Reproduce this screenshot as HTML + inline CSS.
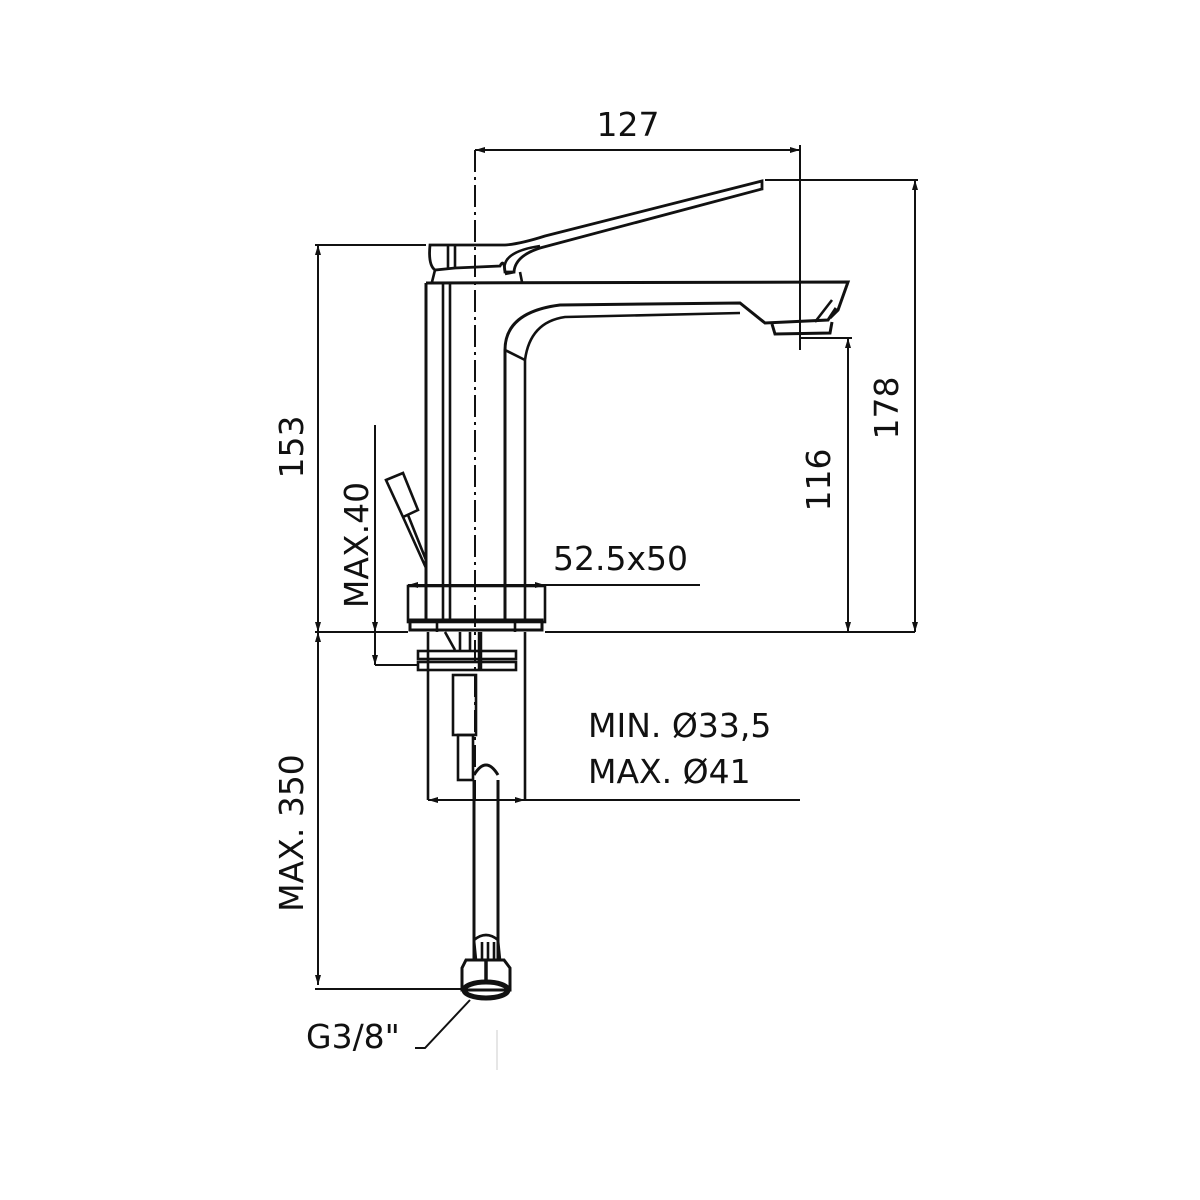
<!DOCTYPE html>
<html><head><meta charset="utf-8"><style>
html,body{margin:0;padding:0;background:#fff;}
svg{display:block}
text{font-family:"DejaVu Sans","Liberation Sans",sans-serif;fill:#111;font-size:33px}
</style></head><body>
<svg width="1200" height="1200" viewBox="0 0 1200 1200" xmlns="http://www.w3.org/2000/svg">
<g stroke="#111" stroke-width="2.6" fill="none">
<line x1="475" y1="150" x2="475" y2="800" stroke-dasharray="22,5,3,5" stroke-width="2"/>
<line x1="475" y1="150" x2="800" y2="150" stroke-width="2"/>
<line x1="800" y1="145" x2="800" y2="350" stroke-width="2"/>
<path d="M430 245 L505 245 Q520 244 545 236 L762 181 L762 189 L540 248 Q515 256 514 272 L505 272 Q504 258 500 266 L455 268 L435 270 Q428 265 430 245 Z" stroke-width="2.8"/>
<path d="M515 272 L505 274 M505 272 Q500 252 540 246"/>
<line x1="448" y1="246" x2="448" y2="268"/><line x1="455" y1="246" x2="455" y2="268"/>
<path d="M435 270 L432 282 M520 272 L522 282"/>
<path d="M426 283 L848 282 L838 310 L830 318" stroke-width="3"/>
<line x1="426" y1="283" x2="426" y2="620" stroke-width="3"/>
<line x1="443" y1="283" x2="443" y2="620"/>
<line x1="450" y1="283" x2="450" y2="620"/>
<path d="M505 620 L505 350 Q505 312 560 305 L740 303 L765 323 L828 320 L836 308" stroke-width="3"/>
<path d="M525 620 L525 360 Q530 322 565 317 L740 313"/>
<path d="M505 350 L525 360"/>
<path d="M772 324 L775 334 L830 333 L832 322" stroke-width="3"/>
<path d="M815 322 L832 300"/>
<rect x="408" y="586" width="137" height="36"/>
<rect x="410" y="620" width="132" height="10" stroke-width="3"/>
<line x1="437" y1="620" x2="437" y2="632"/><line x1="515" y1="620" x2="515" y2="632"/>
<line x1="315" y1="632" x2="408" y2="632" stroke-width="2"/>
<line x1="545" y1="632" x2="915" y2="632" stroke-width="2"/>
<rect x="418" y="651" width="98" height="8"/>
<rect x="418" y="662" width="98" height="8"/>
<line x1="428" y1="632" x2="428" y2="800"/><line x1="525" y1="632" x2="525" y2="800"/>
<line x1="460" y1="632" x2="460" y2="650"/><line x1="470" y1="632" x2="470" y2="650"/>
<line x1="480" y1="632" x2="480" y2="670" stroke-width="4.5"/>
<path d="M445 632 L455 650"/>
<rect x="453" y="675" width="23" height="60"/>
<rect x="458" y="735" width="15" height="45"/>
<path d="M474 780 L474 960 M498 780 L498 960 M474 775 Q486 755 498 775" stroke-width="3"/>
<path d="M476 960 L474 940 Q486 930 498 940 L500 960 Z"/>
<line x1="482" y1="942" x2="482" y2="960"/><line x1="488" y1="942" x2="488" y2="960"/><line x1="494" y1="942" x2="494" y2="960"/>
<path d="M466 960 L504 960 L510 968 L510 990 L462 990 L462 968 Z" stroke-width="3"/>
<ellipse cx="486" cy="990" rx="22" ry="8" stroke-width="5"/>
<line x1="486" y1="960" x2="486" y2="982" stroke-width="3.5"/>
<line x1="318" y1="245" x2="318" y2="985" stroke-width="2"/>
<line x1="315" y1="245" x2="426" y2="245" stroke-width="2"/>
<line x1="315" y1="989" x2="465" y2="989" stroke-width="2"/>
<line x1="375" y1="425" x2="375" y2="665" stroke-width="2"/>
<line x1="375" y1="665" x2="418" y2="665" stroke-width="2"/>
<path d="M386 480 L403 473 L418 510 L403 517 Z M403 517 L426 568 M408 515 L426 560"/>
<line x1="408" y1="585" x2="700" y2="585" stroke-width="2"/>
<line x1="848" y1="338" x2="848" y2="632" stroke-width="2"/>
<line x1="800" y1="338" x2="852" y2="338" stroke-width="2"/>
<line x1="915" y1="180" x2="915" y2="632" stroke-width="2"/>
<line x1="765" y1="180" x2="918" y2="180" stroke-width="2"/>
<line x1="428" y1="800" x2="800" y2="800" stroke-width="2"/>
<path d="M415 1048 L425 1048 L470 1000" stroke-width="2"/>
<line x1="497" y1="1030" x2="497" y2="1070" stroke="#ccc" stroke-width="1"/>
</g>
<g fill="#111">
<path d="M475 150 l10 -3 v6 z M800 150 l-10 -3 v6 z M318 245 l-3 10 h6 z M318 632 l-3 -10 h6 z M318 632 l-3 10 h6 z M318 985 l-3 -10 h6 z M375 632 l-3 -10 h6 z M375 665 l-3 -10 h6 z M848 338 l-3 10 h6 z M848 632 l-3 -10 h6 z M915 180 l-3 10 h6 z M915 632 l-3 -10 h6 z M408 585 l10 -3 v6 z M545 585 l-10 -3 v6 z M428 800 l10 -3 v6 z M525 800 l-10 -3 v6 z"/>
</g>
<text x="628" y="136" text-anchor="middle">127</text>
<text transform="translate(303,447) rotate(-90)" text-anchor="middle">153</text>
<text transform="translate(368,545) rotate(-90)" text-anchor="middle">MAX.40</text>
<text transform="translate(830,480) rotate(-90)" text-anchor="middle">116</text>
<text transform="translate(898,408) rotate(-90)" text-anchor="middle">178</text>
<text transform="translate(303,833) rotate(-90)" text-anchor="middle">MAX. 350</text>
<text x="553" y="570">52.5x50</text>
<text x="588" y="737">MIN. Ø33,5</text>
<text x="588" y="783">MAX. Ø41</text>
<text x="306" y="1048">G3/8"</text>
</svg>
</body></html>
